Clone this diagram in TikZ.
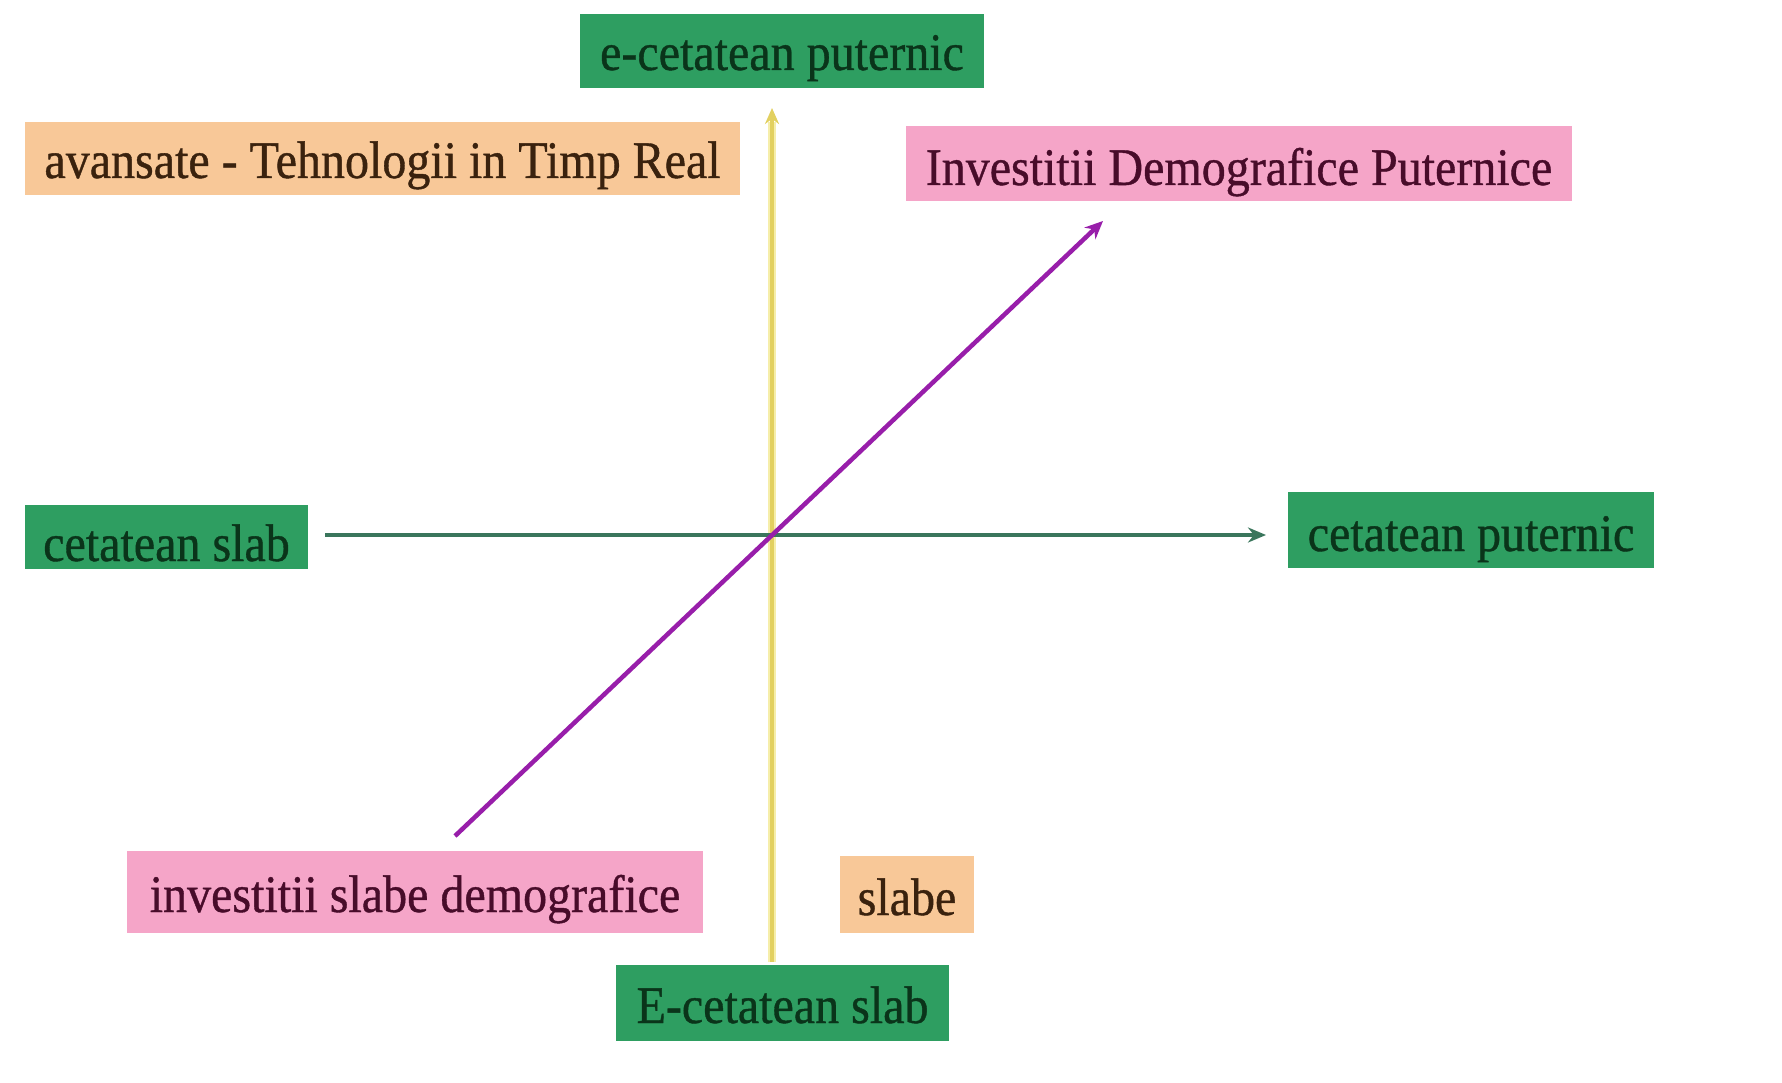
\documentclass[tikz,border=0pt]{standalone}
\usepackage{fontspec}
\usepackage{graphicx}
\setmainfont{Liberation Serif}
\newfontfamily\lblfont{Liberation Serif}[FakeBold=0.8]
\newcommand\vstr[1]{\scalebox{1}[1.1]{#1}}
\usetikzlibrary{arrows.meta}
\definecolor{gfill}{RGB}{46,158,97}
\definecolor{gtext}{RGB}{10,52,26}
\definecolor{ofill}{RGB}{248,200,152}
\definecolor{otext}{RGB}{58,34,14}
\definecolor{pfill}{RGB}{245,165,200}
\definecolor{ptext}{RGB}{72,12,42}
\definecolor{yline}{RGB}{226,208,96}
\definecolor{yhalo}{RGB}{246,238,170}
\definecolor{gline}{RGB}{58,118,92}
\definecolor{mline}{RGB}{152,30,170}
\begin{document}
\begin{tikzpicture}[x=1pt,y=-1pt,
  lbl/.style={inner sep=0pt,font=\lblfont\fontsize{48}{52}\selectfont},
  gbox/.style={lbl,fill=gfill,text=gtext},
  obox/.style={lbl,fill=ofill,text=otext},
  pbox/.style={lbl,fill=pfill,text=ptext},
]
\useasboundingbox[fill=white] (0,0) rectangle (1782,1083);
% boxes (text height + text depth = box height; depth = baseline to bottom)
\node[gbox,minimum width=404pt,text height=56pt,text depth=18pt] (top) at (782,51) {\vstr{e-cetatean puternic}};
\node[obox,minimum width=715pt,text height=56pt,text depth=17pt] (tech) at (382.5,158.5) {\vstr{avansate - Tehnologii in Timp Real}};
\node[pbox,minimum width=666pt,text height=59pt,text depth=16pt] (invp) at (1239,163.5) {\vstr{Investitii Demografice Puternice}};
\node[gbox,minimum width=283pt,text height=56pt,text depth=8pt] (cs) at (166.5,537) {\vstr{cetatean slab}};
\node[gbox,minimum width=366pt,text height=59pt,text depth=17pt] (cp) at (1471,530) {\vstr{cetatean puternic}};
\node[pbox,minimum width=576pt,text height=61pt,text depth=21pt] (invs) at (415,892) {\vstr{investitii slabe demografice}};
\node[obox,minimum width=134pt,text height=59pt,text depth=18pt] (slabe) at (907,894.5) {\vstr{slabe}};
\node[gbox,minimum width=333pt,text height=58pt,text depth=18pt] (bot) at (782.5,1003) {\vstr{E-cetatean slab}};
% axis end points
\coordinate (yS) at (772,962);
\coordinate (yE) at (772,108);
\coordinate (yH) at (772,122);
\coordinate (gS) at (325,535);
\coordinate (gE) at (1266,535);
\coordinate (mS) at (455,836);
\coordinate (mE) at (1103,221);
% connectors
\draw[yhalo,line width=8pt] (yS) -- (yH);
\draw[yline,line width=4pt,-{Stealth[length=16pt,width=14pt]}] (yS) -- (yE);
\draw[gline,line width=4pt,-{Stealth[length=18pt,width=15pt]}] (gS) -- (gE);
\draw[mline,line width=4.5pt,-{Stealth[length=18pt,width=16pt]}] (mS) -- (mE);
\end{tikzpicture}
\end{document}
